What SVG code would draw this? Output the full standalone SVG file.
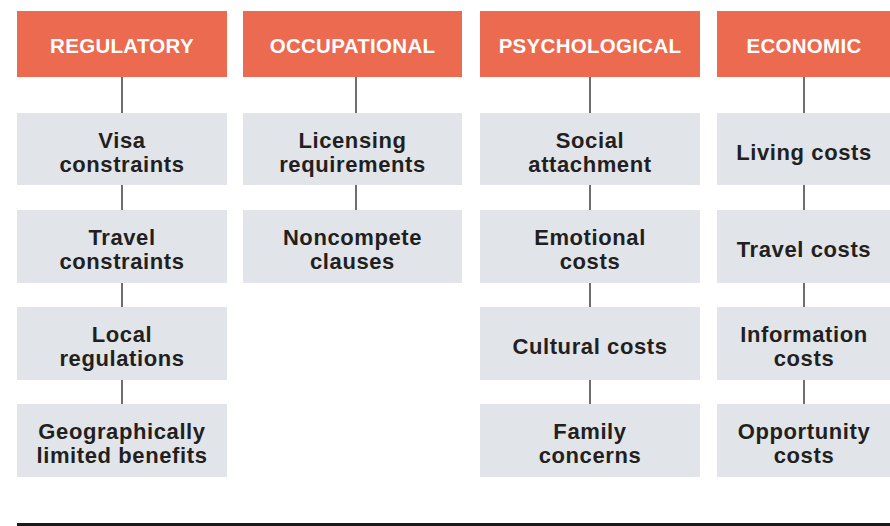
<svg xmlns="http://www.w3.org/2000/svg" width="890" height="526" viewBox="0 0 890 526">
  <style>
    .head { fill: #EC6A4F; }
    .item { fill: #E1E5E9; }
    .htxt { font-family: "Liberation Sans", Arial, sans-serif; font-weight: bold; font-size: 20.5px; letter-spacing: 0.3px; fill: #FFFFFF; text-anchor: middle; }
    .itxt { font-family: "Liberation Sans", Arial, sans-serif; font-weight: bold; font-size: 22px; letter-spacing: 0.6px; fill: #231F20; text-anchor: middle; }
    .link { stroke: #6E6E6E; stroke-width: 2; fill: none; }
  </style>
  <rect x="0" y="0" width="890" height="526" fill="#FFFFFF"/>

  <!-- connectors -->
  <g id="connectors">
    <line class="link" x1="122" y1="77" x2="122" y2="113"/>
    <line class="link" x1="122" y1="185" x2="122" y2="210"/>
    <line class="link" x1="122" y1="283" x2="122" y2="307"/>
    <line class="link" x1="122" y1="380" x2="122" y2="404"/>

    <line class="link" x1="356" y1="77" x2="356" y2="113"/>
    <line class="link" x1="356" y1="185" x2="356" y2="210"/>

    <line class="link" x1="590" y1="77" x2="590" y2="113"/>
    <line class="link" x1="590" y1="185" x2="590" y2="210"/>
    <line class="link" x1="590" y1="283" x2="590" y2="307"/>
    <line class="link" x1="590" y1="380" x2="590" y2="404"/>

    <line class="link" x1="804" y1="77" x2="804" y2="113"/>
    <line class="link" x1="804" y1="185" x2="804" y2="210"/>
    <line class="link" x1="804" y1="283" x2="804" y2="307"/>
    <line class="link" x1="804" y1="380" x2="804" y2="404"/>
  </g>

  <!-- column 1: regulatory -->
  <g id="regulatory">
    <rect class="head" x="17" y="11" width="210" height="66"/>
    <text class="htxt" x="122" y="53">REGULATORY</text>
  </g>
  <g id="visa-constraints">
    <rect class="item" x="17" y="113" width="210" height="72"/>
    <text class="itxt" x="122" y="148">Visa</text>
    <text class="itxt" x="122" y="172">constraints</text>
  </g>
  <g id="travel-constraints">
    <rect class="item" x="17" y="210" width="210" height="73"/>
    <text class="itxt" x="122" y="245">Travel</text>
    <text class="itxt" x="122" y="269">constraints</text>
  </g>
  <g id="local-regulations">
    <rect class="item" x="17" y="307" width="210" height="73"/>
    <text class="itxt" x="122" y="342">Local</text>
    <text class="itxt" x="122" y="366">regulations</text>
  </g>
  <g id="geographically-limited-benefits">
    <rect class="item" x="17" y="404" width="210" height="73"/>
    <text class="itxt" x="122" y="439">Geographically</text>
    <text class="itxt" x="122" y="463">limited benefits</text>
  </g>

  <!-- column 2: occupational -->
  <g id="occupational">
    <rect class="head" x="243" y="11" width="219" height="66"/>
    <text class="htxt" x="352.5" y="53">OCCUPATIONAL</text>
  </g>
  <g id="licensing-requirements">
    <rect class="item" x="243" y="113" width="219" height="72"/>
    <text class="itxt" x="352.5" y="148">Licensing</text>
    <text class="itxt" x="352.5" y="172">requirements</text>
  </g>
  <g id="noncompete-clauses">
    <rect class="item" x="243" y="210" width="219" height="73"/>
    <text class="itxt" x="352.5" y="245">Noncompete</text>
    <text class="itxt" x="352.5" y="269">clauses</text>
  </g>

  <!-- column 3: psychological -->
  <g id="psychological">
    <rect class="head" x="480" y="11" width="220" height="66"/>
    <text class="htxt" x="590" y="53">PSYCHOLOGICAL</text>
  </g>
  <g id="social-attachment">
    <rect class="item" x="480" y="113" width="220" height="72"/>
    <text class="itxt" x="590" y="148">Social</text>
    <text class="itxt" x="590" y="172">attachment</text>
  </g>
  <g id="emotional-costs">
    <rect class="item" x="480" y="210" width="220" height="73"/>
    <text class="itxt" x="590" y="245">Emotional</text>
    <text class="itxt" x="590" y="269">costs</text>
  </g>
  <g id="cultural-costs">
    <rect class="item" x="480" y="307" width="220" height="73"/>
    <text class="itxt" x="590" y="354">Cultural costs</text>
  </g>
  <g id="family-concerns">
    <rect class="item" x="480" y="404" width="220" height="73"/>
    <text class="itxt" x="590" y="439">Family</text>
    <text class="itxt" x="590" y="463">concerns</text>
  </g>

  <!-- column 4: economic -->
  <g id="economic">
    <rect class="head" x="717" y="11" width="173" height="66"/>
    <text class="htxt" x="804" y="53">ECONOMIC</text>
  </g>
  <g id="living-costs">
    <rect class="item" x="717" y="113" width="173" height="72"/>
    <text class="itxt" x="804" y="160">Living costs</text>
  </g>
  <g id="travel-costs">
    <rect class="item" x="717" y="210" width="173" height="73"/>
    <text class="itxt" x="804" y="257">Travel costs</text>
  </g>
  <g id="information-costs">
    <rect class="item" x="717" y="307" width="173" height="73"/>
    <text class="itxt" x="804" y="342">Information</text>
    <text class="itxt" x="804" y="366">costs</text>
  </g>
  <g id="opportunity-costs">
    <rect class="item" x="717" y="404" width="173" height="73"/>
    <text class="itxt" x="804" y="439">Opportunity</text>
    <text class="itxt" x="804" y="463">costs</text>
  </g>

  <!-- rule along the foot -->
  <rect x="17" y="523" width="873" height="3" fill="#1A1A1A"/>
</svg>
